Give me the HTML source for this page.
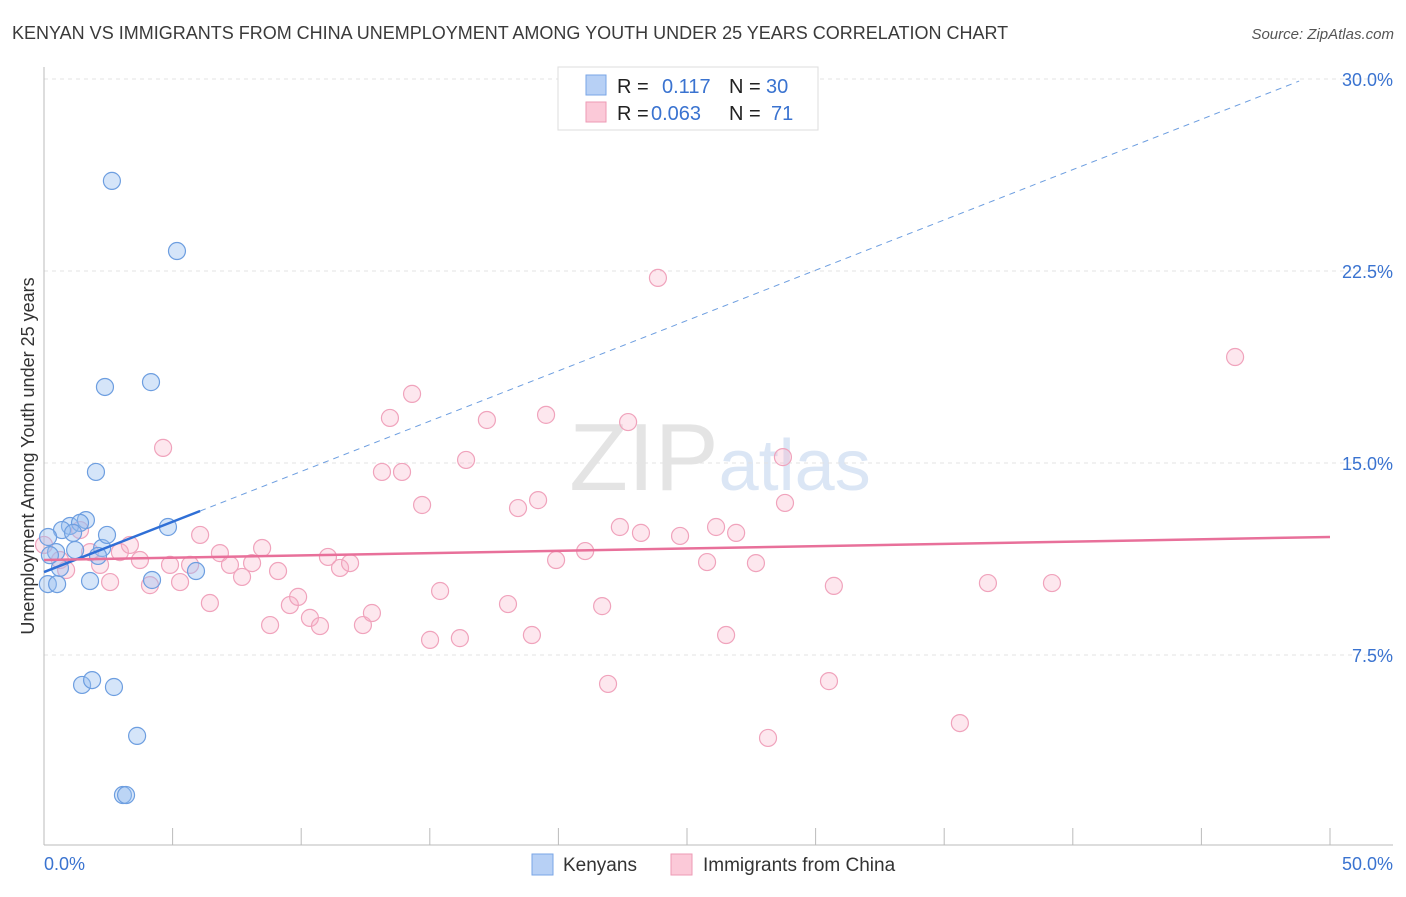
<!DOCTYPE html>
<html><head><meta charset="utf-8"><style>
body{margin:0;background:#fff;font-family:"Liberation Sans",sans-serif;}
svg text{font-family:"Liberation Sans",sans-serif;}
</style></head><body>
<svg id="chart" width="1406" height="892" viewBox="0 0 1406 892" xmlns="http://www.w3.org/2000/svg">
<text x="12" y="39" font-size="18" fill="#3a3a3a">KENYAN VS IMMIGRANTS FROM CHINA UNEMPLOYMENT AMONG YOUTH UNDER 25 YEARS CORRELATION CHART</text>
<text x="1394" y="39" font-size="15" fill="#555" text-anchor="end" font-style="italic">Source: ZipAtlas.com</text>
<text x="720" y="490" font-size="96" text-anchor="middle" fill="#e4e4e4" font-family="Liberation Serif">ZIP<tspan fill="#dbe6f5" font-family="Liberation Sans" font-size="72">atlas</tspan></text>
<g id="grid"></g>
<g id="axes"></g>
<g id="marks"></g>
<g>
<rect x="558" y="67" width="260" height="63" fill="#fff" stroke="#ddd"/>
<rect x="586" y="75" width="20" height="20" fill="#b7d0f5" stroke="#7aa6e6"/>
<text x="617" y="93" font-size="20" fill="#222">R =</text><text x="662" y="93" font-size="20" fill="#3a73d0">0.117</text>
<text x="729" y="93" font-size="20" fill="#222">N =</text><text x="766" y="93" font-size="20" fill="#3a73d0">30</text>
<rect x="586" y="102" width="20" height="20" fill="#fbc9d8" stroke="#ee9ab5"/>
<text x="617" y="120" font-size="20" fill="#222">R =</text><text x="651" y="120" font-size="20" fill="#3a73d0">0.063</text>
<text x="729" y="120" font-size="20" fill="#222">N =</text><text x="771" y="120" font-size="20" fill="#3a73d0">71</text>
</g>
<g>
<rect x="532" y="854" width="21" height="21" fill="#b7d0f5" stroke="#7aa6e6"/>
<text x="563" y="871" font-size="19" fill="#333">Kenyans</text>
<rect x="671" y="854" width="21" height="21" fill="#fbc9d8" stroke="#ee9ab5"/>
<text x="703" y="871" font-size="19" fill="#333">Immigrants from China</text>
</g>
<text transform="translate(34,456) rotate(-90)" font-size="18" fill="#333" text-anchor="middle">Unemployment Among Youth under 25 years</text>
</svg>
<script>
const yTicks=[7.5,15,22.5,30];
const yTickLabels=["7.5%","15.0%","22.5%","30.0%"];
const xTicks=[0,5,10,15,20,25,30,35,40,45,50];
const kenyanX=[2.64,5.17,2.37,4.16,2.02,1.63,1.01,1.40,0.70,1.13,0.16,0.47,1.21,2.26,2.45,2.10,4.82,0.15,0.51,1.79,4.20,5.91,0.62,1.48,1.87,2.72,3.62,3.07,3.19,0.23];
const kenyanY=[26.02,23.28,17.97,18.16,14.65,12.77,12.54,12.66,12.38,12.27,12.11,11.52,11.60,11.68,12.19,11.37,12.50,10.27,10.27,10.39,10.43,10.78,10.90,6.33,6.52,6.25,4.34,2.03,2.03,11.4];
const chinaX=[0.0,0.62,0.86,1.40,1.79,2.18,2.57,2.95,3.34,3.73,4.12,4.63,4.90,5.29,5.68,6.07,6.45,6.84,7.23,7.70,8.09,8.48,8.79,9.10,9.56,9.88,10.34,10.73,11.04,11.51,11.90,12.40,12.75,13.14,13.45,13.92,14.31,14.70,15.01,15.40,16.17,16.41,17.22,18.04,18.43,18.97,19.21,19.52,19.91,21.04,21.70,21.93,22.39,22.71,23.21,23.87,24.73,25.78,26.13,26.52,26.91,27.68,28.15,28.73,28.81,30.52,30.71,35.61,36.70,39.19,46.31];
const chinaY=[11.80,11.21,10.82,12.38,11.52,11.02,10.35,11.52,11.80,11.21,10.23,15.59,11.02,10.35,11.02,12.19,9.53,11.48,11.02,10.55,11.09,11.68,8.67,10.78,9.45,9.77,8.95,8.63,11.33,10.90,11.09,8.67,9.14,14.65,16.76,14.65,17.70,13.36,8.09,10.00,8.16,15.12,16.68,9.49,13.24,8.28,13.55,16.88,11.21,11.56,9.41,6.37,12.50,16.60,12.27,22.23,12.15,11.13,12.50,8.28,12.27,11.09,4.26,15.23,13.44,6.48,10.20,4.84,10.31,10.31,19.14];
const kenyanTrend=[10.74,0.393]; // intercept, slope
const chinaTrend=[11.21,12.11]; // value at x=0, x=50
const NS="http://www.w3.org/2000/svg";
const sx=v=>44+v*25.72, sy=v=>847-v*25.6;
function mk(tag,attrs,parent){const e=document.createElementNS(NS,tag);for(const k in attrs)e.setAttribute(k,attrs[k]);document.getElementById(parent).appendChild(e);return e;}
yTicks.forEach((t,i)=>{
 const g=mk('line',{x1:44,x2:1393,y1:sy(t),y2:sy(t),stroke:'#e3e3e3','stroke-dasharray':'4,4'},'grid');
 
 
 const l=mk('text',{x:1393,y:sy(t)+7,'font-size':18,fill:'#3a73d0','text-anchor':'end'},'axes');
 l.textContent=yTickLabels[i];
 
 
});
const ax=mk('line',{x1:44,x2:1393,y1:845,y2:845,stroke:'#bbb'},'axes');


const ay=mk('line',{x1:44,x2:44,y1:67,y2:845,stroke:'#bbb'},'axes');


xTicks.forEach(t=>{const e=mk('line',{x1:sx(t),x2:sx(t),y1:828,y2:845,stroke:'#bbb'},'axes');
 
 });
[[0,'0.0%','start',44],[50,'50.0%','end',1393]].forEach(a=>{const e=mk('text',{x:a[3],y:870,'font-size':18,fill:'#3a73d0','text-anchor':a[2]},'axes');e.textContent=a[1];
 
 });
chinaX.forEach((x,i)=>{const c=mk('circle',{cx:sx(x),cy:sy(chinaY[i]),r:8.5,fill:'rgba(248,176,200,0.3)',stroke:'#f0a3bc','stroke-width':1.2},'marks');
 
 });
kenyanX.forEach((x,i)=>{const c=mk('circle',{cx:sx(x),cy:sy(kenyanY[i]),r:8.5,fill:'rgba(150,190,240,0.4)',stroke:'#6d9ee0','stroke-width':1.2},'marks');
 
 });
const kx1=6.07,kx2=48.8;
const t1=mk('line',{x1:sx(0),y1:sy(kenyanTrend[0]),x2:sx(kx1),y2:sy(kenyanTrend[0]+kenyanTrend[1]*kx1),stroke:'#2f6fd6','stroke-width':2.5},'marks');


const t2=mk('line',{x1:sx(kx1),y1:sy(kenyanTrend[0]+kenyanTrend[1]*kx1),x2:sx(kx2),y2:sy(kenyanTrend[0]+kenyanTrend[1]*kx2),stroke:'#6d9ee0','stroke-width':1,'stroke-dasharray':'6,5'},'marks');


const t3=mk('line',{x1:sx(0),y1:sy(chinaTrend[0]),x2:sx(50),y2:sy(chinaTrend[1]),stroke:'#e8709a','stroke-width':2.5},'marks');


</script>
</body></html>
